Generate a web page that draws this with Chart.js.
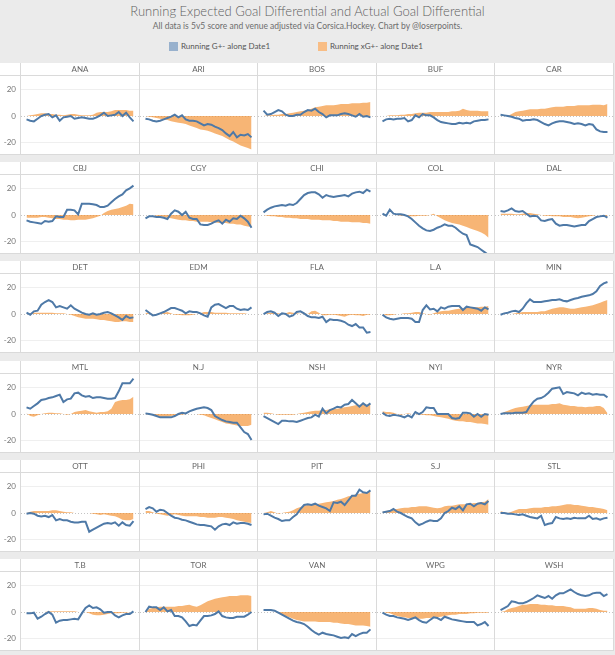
<!DOCTYPE html>
<html>
<head>
<meta charset="utf-8">
<script src="https://cdn.jsdelivr.net/npm/chart.js@4.4.0/dist/chart.umd.min.js"></script>
<style>
  body { margin: 0; background: #ebebeb; font-family: Lato, "Open Sans", sans-serif; }
  #page { position: relative; width: 615px; height: 655px; overflow: hidden; background: #ebebeb; }
  #title { position: absolute; top: 3px; left: 0; width: 615px; text-align: center; font-size: 13px; font-weight: 300; color: #5e5e5e; }
  #subtitle { position: absolute; top: 21px; left: 0; width: 615px; text-align: center; font-size: 8.5px; color: #6d6d6d; }
  .swatch { position: absolute; top: 42px; width: 9px; height: 9px; }
  .legend-text { position: absolute; top: 40.5px; font-size: 8px; color: #555; white-space: nowrap; }
  .team { position: absolute; height: 12px; line-height: 12px; text-align: center; font-size: 8px; color: #666; }
  .box { position: absolute; }
  canvas { position: absolute; }
</style>
</head>
<body>
<div id="page">
  <div id="title">Running Expected Goal Differential and Actual Goal Differential</div>
  <div id="subtitle">All data is 5v5 score and venue adjusted via Corsica.Hockey. Chart by @loserpoints.</div>
  <div class="swatch" style="left:169px;background:#98b1cd"></div>
  <div class="legend-text" style="left:181px">Running G+- along Date1</div>
  <div class="swatch" style="left:318px;background:#f8bd85"></div>
  <div class="legend-text" style="left:330px">Running xG+- along Date1</div>
</div>
<script>
/* Running G+- (line) and running xG+- (area) for each team, one value per game step */
let anaG = [-2.5, -3.5, -4, -2, 0, 1, 1.5, -1, 0.5, -3.5, -1, -0.5, 0, -2, -1.5, -1, -1.5, -2, -2, -1, 0.5, 2.5, 0, 0.5, 1, 3, 0, 2.5, -1, -4]
let anaXg = [0, 0.5, 1, 1.5, 2, 2, 1.5, 1.5, 1, 1, 0.5, 1, 1.5, 1.5, 1, 0.5, 0.5, 0.5, 1, 2.5, 3, 3, 3, 3.5, 4.5, 4.5, 4.5, 4.5, 4, 4]
let ariG = [-2, -2.5, -3.5, -4, -3.5, -2.5, -1.5, -0.5, 1, -1, 0.5, -2.5, -3.5, -3.5, -4, -5.5, -7, -6, -6.5, -8, -9, -10.5, -13, -15, -12, -16, -14, -14.5, -13.5, -16]
let ariXg = [0, -0.5, -1, -1.5, -2, -2.5, -3, -4, -4.5, -5, -5.5, -6, -7, -8, -9, -10, -10.5, -11, -12, -13, -14, -15, -16.5, -18, -19, -20.5, -22, -23, -24, -25]
let bosG = [4, 1, 1.5, 3, 4.5, 3.5, 1, 0, 0, 1, 1, 3, 4.5, 4, 5.5, 3, 1.5, -1, 0.5, 0.5, 0.5, 1.5, 2, 1.5, 0.5, -0.5, 1.5, -0.5, 0, -1]
let bosXg = [0, 0.5, 0.5, 1, 1, 1.5, 1.5, 2, 2.5, 3, 3.5, 4, 4.5, 5.5, 6.5, 7, 7.5, 8, 8, 8, 8.5, 9, 9, 9, 9.5, 9.5, 9.5, 10, 10, 10.5]
let bufG = [-4, -2.5, -2, -2.5, -2, -2, -1.5, -4, -3, 0.5, -1, 1.5, 0.5, 0.5, -1, -3, -4.5, -5, -5.5, -6, -6, -5, -5.5, -5, -5.5, -4, -3.5, -3, -3, -2.5]
let bufXg = [0, 0, 0.5, 0.5, 0.5, 1, 1, 1.5, 1.5, 2, 2.5, 2.5, 2.5, 3, 3, 3, 3, 3, 3, 3.5, 3.5, 4, 5.5, 4.5, 4, 4, 4, 3.5, 3.5, 3.5]
let carG = [1, 0.5, 0, -0.5, -1.5, -2, -3.5, -3, -3, -2.5, -3, -4.5, -6, -7, -5.5, -4.5, -4, -4, -4.5, -5, -6, -5.5, -6, -7, -6, -6.5, -10, -11.5, -12, -12]
let carXg = [0, 0, 0, 1.5, 3, 3.5, 4, 4.5, 5, 5, 5, 5.5, 5.5, 6, 6.5, 7, 7, 7, 7.5, 7.5, 7.5, 8, 8, 8, 8, 8.5, 8.5, 8.5, 8, 9]

let cbjG = [-4, -5, -5.5, -6, -6.5, -4.5, -5, -4.5, -1, -1.5, -1.5, 4, 4, 3.5, 0.5, 8.5, 8.5, 8.5, 8, 7.5, 6, 6, 7, 9.5, 12, 14, 15.5, 18.5, 20, 22]
let cbjXg = [-2, -2, -2, -2, -1.5, -1.5, -2, -2.5, -3, -3, -3.5, -3.5, -4, -4, -3.5, -3.5, -3.5, -3, -2.5, -1.5, -0.5, 1.5, 3, 4, 4.5, 5, 6, 7, 8.5, 8]
let cgyG = [-2.5, -1, -1, -1.5, -1.5, -2, -3, 1, 3.5, 2.5, 0, 2.5, -2, -3, -3, -7, -7.5, -7.5, -6.5, -5, -4, -6.5, -3.5, -5, -2.5, -3, -0.5, -2.5, -5, -9.5]
let cgyXg = [0, 0, 0, -0.5, -1, -1.5, -2, -2.5, -3, -3.5, -4, -4, -4.5, -4.5, -5, -5, -5, -5, -5.5, -5.5, -6, -6, -6, -6.5, -6.5, -7, -7, -8, -8.5, -9]
let chiG = [2, 4, 5.5, 6.5, 7, 7.5, 7, 8, 7.5, 9, 12, 15, 16.5, 17, 17, 15.5, 13, 15, 14, 13.5, 14, 14.5, 15, 14, 16, 17, 17.5, 16.5, 19, 17.5]
let chiXg = [0, -0.5, -1, -1, -1.5, -1.5, -2, -2, -2.5, -2.5, -3, -3, -3, -3.5, -3.5, -3.5, -4, -4, -4, -4.5, -4.5, -5, -5, -5, -5.5, -5.5, -5.5, -6, -6, -6.5]
let colG = [1, -0.5, 4, 1, 0.5, 0.5, 0, -1, -3, -5.5, -8, -10, -11.5, -12, -11, -9.5, -8.5, -7, -8, -8, -9.5, -12, -14, -15, -22, -23, -24, -26, -28, -30]
let colXg = [0, 0, 0, 0, 0, -0.5, -0.5, -1, -1, -1, -0.5, -0.5, -0.5, 0, 1, -1, -2.5, -4, -5, -6, -6.5, -7, -8, -9, -10, -11, -12, -13, -14.5, -17]
let dalG = [3, 2.5, 3.5, 5, 3, 2.5, 3, 1, -1, -0.5, -1, -4, -4.5, -3.5, -3, -6.5, -8, -7.5, -7.5, -8, -8.5, -8, -7.5, -7.5, -4.5, -3, -1.5, -1, -0.5, -2]
let dalXg = [1, 1, 1, 1, 0.5, 0.5, 1, 1.5, 1.5, 1, 0.5, 0, -0.5, -0.5, -1, -1, -1, -1.5, -1.5, -1.5, -2, -2.5, -2, -1.5, -1, -0.5, 0, 0, -0.5, -1]

let detG = [1, -0.5, 2, 2.5, 7, 9, 10.5, 9, 5, 6, 5, 4, 6.5, 4, 2.5, 1, 0, -0.5, 0.5, -0.5, 0, 1, 1.5, 0.5, -1, -2.5, -4.5, -1.5, -3, -2.5]
let detXg = [0, 0.5, 1, 1, 1, 1, 1, 1, 0.5, 0.5, 0.5, 0, -0.5, -1.5, -2.5, -3, -3.5, -3.5, -3.5, -4, -4.5, -4.5, -5, -5.5, -6, -6, -5.5, -5.5, -6, -6]
let edmG = [3, 1, -1, -0.5, 0.5, 1.5, 3, 4.5, 4.5, 3.5, 2.5, 0.5, 2, 1.5, 1.5, 0.5, -1, -2, 5, 7, 7.5, 6, 4.5, 6, 6, 4, 3, 3.5, 3, 5]
let edmXg = [1, 0.5, 0, -0.5, 0, 1, 1.5, 0.5, -0.5, -0.5, -1, -1, -1, -0.5, 0, 0.5, 1.5, 1.5, 1.5, 1, 1, 1, 1, 0.5, 0.5, 0.5, 0.5, 0.5, 0, 0]
let flaG = [0, 1.5, 2, 1, -1.5, 0.5, 0, -2, -1, 1.5, 2, 0.5, -1.5, -2.5, -2.5, -3, -2, -6, -4, -4.5, -4.5, -5, -6, -8, -9, -7.5, -10, -10, -14, -13.5]
let flaXg = [0, 0.5, 1, 1, 0.5, 0, 0.5, 1.5, 1, 0.5, 0, 0.5, 0, 2, 2.5, 1, -1, -1, -0.5, -0.5, -1, -1.5, -2, -1, -0.5, -1, -1, -1.5, -0.5, -0.5]
let laG = [-0.5, -2.5, -3.5, -4, -3.5, -3, -3, -3, -3.5, -6, -6, 3, 6.5, 3.5, 4, 2, 5, 4, 5.5, 6, 6, 6, 3, 5.5, 5, 4.5, 4, 2.5, 5, 3.5]
let laXg = [0, -1, -1, -0.5, 0, 0, 0.5, 0.5, 1, 1.5, 1.5, 0.5, 0, -0.5, 0.5, 1.5, 2, 2.5, 2.5, 3, 3.5, 4, 4, 4.5, 4.5, 5, 5, 5.5, 5.5, 6]
let minG = [-0.5, 0.5, 1, 2, 2.5, 1.5, 4, 8, 11, 9, 9, 9, 9.5, 10, 10.5, 10.5, 11, 10, 9.5, 10.5, 11.5, 12, 13, 13.5, 14, 15, 17, 21, 23, 24]
let minXg = [0, 0, 0, 0, 0.5, 1, 1.5, 1.5, 1.5, 1.5, 1.5, 2, 2, 3, 4, 4.5, 5, 5, 4.5, 4, 4, 4.5, 5, 5.5, 6, 6.5, 7.5, 8.5, 9.5, 10.5]

let mtlG = [5, 4, 6, 8, 10.5, 11, 12, 12.5, 13.5, 14.5, 9, 11, 11.5, 15.5, 16, 14, 13, 13.5, 12, 12.5, 12.5, 12, 11.5, 11.5, 12, 17, 23, 23, 23, 26.5]
let mtlXg = [0.5, -1.5, -2, -1, 0, 0.5, 1, 1, 0.5, 0.5, 0, -0.5, 0, 1.5, 2, 2.5, 3, 2, 1.5, 1, 1.5, 1.5, 2, 4, 9, 10, 10.5, 10.5, 11, 13]
let njG = [0.5, 0, -0.5, -1.5, -2.5, -2.5, -2.5, -2.5, -1.5, 0, 1, 0.5, 2, 3, 4, 4.5, 5, 4.5, 3, -1.5, -3, -4.5, -5.5, -6, -6.5, -6.5, -10, -13.5, -15, -19.5]
let njXg = [0, -0.5, -1, -1.5, -2, -2, -2, -1.5, -1, -0.5, -0.5, 0, 0, 0, 0, -0.5, -1, -2, -3, -4, -5, -6, -7, -7.5, -8, -8.5, -9, -9, -9, -8]
let nshG = [-1.5, -3, -4.5, -6, -7.5, -5, -5, -5.5, -5.5, -6, -5, -4, -3, -2.5, -0.5, -2, 4, 0.5, 3, 4, 5.5, 5, 7, 7.5, 10.5, 8, 5.5, 8, 6, 8]
let nshXg = [1, 1, 0.5, 0, -0.5, -0.5, -0.5, -0.5, -0.5, 0, 0.5, 1, 1.5, 2, 2.5, 2.5, 3, 3, 3.5, 4, 4, 4.5, 5, 5.5, 6, 6.5, 7, 7, 7, 7.5]
let nyiG = [1, -1, -1.5, -0.5, -1, -1.5, -2.5, -1, -2.5, 1.5, 0, 1.5, 5, 4.5, 4.5, 0, 0, 0, 0, -3, -3.5, -3, 1, 1, 0.5, -2, 0, -2, 0, -0.5]
let nyiXg = [2, 1.5, 1.5, 1, 0, -0.5, 0, 0.5, 0, 0, -0.5, -0.5, -1, -1, -1.5, -2, -2.5, -3, -3.5, -4.5, -5, -5.5, -5.5, -6, -6, -6.5, -7, -7, -7.5, -8]
let nyrG = [0, 0.5, 0.5, 0.5, 1, 1, 1, 1.5, 6, 9.5, 11.5, 12, 13.5, 16, 19, 19.5, 20, 15, 16.5, 16, 15.5, 14, 16, 15, 15.5, 14.5, 15, 14.5, 14.5, 12.5]
let nyrXg = [0, 1.5, 2.5, 3.5, 4.5, 5, 5.5, 6, 6.5, 7, 7, 7, 7, 7, 7.5, 7.5, 8, 7, 6.5, 6, 6, 5.5, 5.5, 5, 5.5, 5.5, 6, 6, 4.5, 0.5]

let ottG = [-0.5, 0, -0.5, -2, -2.5, -2, -3, -1.5, -5.5, -4.5, -5.5, -5.5, -6.5, -7, -7, -6.5, -6.5, -14, -12.5, -11, -9.5, -8, -7.5, -8, -7, -9.5, -7, -9, -9.5, -6]
let ottXg = [0, 1, 1.5, 1.5, 1.5, 1.5, 1.5, 2, 2, 1.5, 1, 0.5, 0.5, 0, 0, 0, 0, 0, -0.5, -1, -1.5, -1, -1.5, -2, -2.5, -3.5, -5, -5.5, -5.5, -4.5]
let phiG = [3, 4.5, 3.5, 1, 2.5, 2, 0, -2, -3.5, -4, -5, -5.5, -6.5, -7.5, -8.5, -9, -9, -9.5, -10, -12.5, -10, -8.5, -8, -9, -7, -8, -7.5, -7.5, -8, -9]
let phiXg = [1.5, 1.5, 0.5, -0.5, -1, -1.5, -2, -1.5, -1, -1.5, -2, -2.5, -2.5, -2.5, -2.5, -3, -3, -3.5, -3.5, -3.5, -3, -3, -3.5, -4, -4.5, -5.5, -6, -6.5, -7, -7.5]
let pitG = [-1, -0.5, -2, -3.5, -4.5, -6, -5.5, -5.5, -3, -1, 3, 6, 6.5, 6, 7, 5.5, 4.5, 3.5, 1.5, 8, 7.5, 8.5, 6, 9.5, 13, 13, 17.5, 15.5, 15, 17]
let pitXg = [0, 0.5, 1.5, 0.5, -0.5, 0, 0.5, 1, 2, 3.5, 4.5, 5.5, 6, 6, 6.5, 7, 7.5, 8, 8.5, 9, 10, 10.5, 11.5, 12.5, 13, 14, 14.5, 15, 15.5, 16.5]
let sjG = [0.5, 1, 1.5, 3, 1, 0, -1.5, -3, -4, -7, -9, -8, -6.5, -5.5, -6, -6, -4, 0, 1.5, 4, 3, 5, 2, 6.5, 7, 5, 7, 7.5, 6.5, 9]
let sjXg = [1, 1.5, 2, 3, 3, 3.5, 4, 4, 4.5, 4.5, 5, 5, 5, 4.5, 4, 3.5, 4, 5, 5.5, 5.5, 6, 6.5, 6.5, 6.5, 7, 7.5, 7.5, 8, 8.5, 10.5]
let stlG = [0, 0, -0.5, -0.5, -1, -1.5, -1, -2, -3, -3.5, -4, -2, -9, -8, -7.5, -3, -4, -4.5, -4, -4.5, -3.5, -4, -4, -4, -2, -4.5, -4, -5, -4, -3.5]
let stlXg = [1.5, 0.5, 0, 1, 2, 3, 3, 3, 3.5, 4, 4, 4, 4.5, 4.5, 5, 5, 5.5, 6, 6.5, 6.5, 6, 6, 5.5, 5, 4.5, 4.5, 4, 3.5, 3, 2]

let tbG = [-1, -1, -0.5, -5, -3.5, -1.5, 0, -2, -8, -6.5, -6, -6, -5.5, -5, -5.5, -1, 3, 5, 3, 3.5, 2, -0.5, 0, 0, -2.5, -4, -2.5, -1.5, -1.5, 0.5]
let tbXg = [0, 0, 0, 0, 0, 0, 0.5, 0.5, 0.5, 0.5, 0.5, 0.5, 0.5, 0.5, 0, 0, 0, -1, -2, -2.5, -2.5, -2, -1.5, -1, -1, -1, -0.5, -0.5, 0, 0]
let torG = [0, 4, 3.5, 3.5, 1.5, 3.5, 0.5, 1.5, -3, -3, -4, -7, -10.5, -9.5, -10, -6.5, -3, -3, -2.5, -1.5, 0.5, -3, -4, -4.5, -4.5, -3.5, -3.5, -3.5, -2, 0]
let torXg = [0, 2.5, 3, 3.5, 4, 4, 4, 4, 4, 4.5, 4.5, 5, 5.5, 4.5, 4, 5, 6.5, 8, 9, 10, 10.5, 11, 11.5, 12, 12, 12, 12.5, 12.5, 12.5, 12]
let vanG = [1.5, 1.5, 1.5, 1, -0.5, -2, -3.5, -5, -6.5, -7.5, -8, -9, -11, -13.5, -15.5, -17, -15.5, -16.5, -17, -17.5, -18.5, -19.5, -19, -19.5, -16.5, -18, -16.5, -15.5, -15.5, -13]
let vanXg = [0, 0, 0, 0, -0.5, -2, -3, -4, -5, -6, -6.5, -7, -7, -7, -7, -7.5, -7.5, -7.5, -7.5, -8, -8, -8.5, -9, -9, -9.5, -10, -10, -10, -10.5, -11]
let wpgG = [-0.5, -2, -3, -3, -4, -4.5, -5, -6, -5, -4, -6, -7.5, -8, -6, -4, -4.5, -6, -3.5, -4.5, -5.5, -6, -6.5, -7, -7.5, -7.5, -7.5, -10, -9, -7.5, -10.5]
let wpgXg = [0, -0.5, -1, -2, -3, -3.5, -4, -4.5, -4.5, -5, -5, -5, -4.5, -4.5, -4, -4, -3.5, -3, -2.5, -2, -2, -1.5, -1.5, -1.5, -1, -1, -0.5, -0.5, -0.5, -0.5]
let wshG = [1.5, 3, 4.5, 8, 7.5, 6.5, 6.5, 7.5, 9, 10.5, 12.5, 11.5, 10.5, 12, 10, 12.5, 14, 14, 15.5, 17, 15, 13.5, 12.5, 12, 12.5, 14, 14.5, 14.5, 12, 13.5]
let wshXg = [0, 0.5, 2, 3, 3.5, 4.5, 5.5, 5.5, 6, 6, 6, 5.5, 5.5, 5, 5, 4.5, 4.5, 4.5, 4, 3.5, 2.5, 2.5, 2.5, 2.5, 3, 3, 2.5, 1.5, 1, 1]

let teams = ['ANA', 'ARI', 'BOS', 'BUF', 'CAR', 'CBJ', 'CGY', 'CHI', 'COL', 'DAL',
             'DET', 'EDM', 'FLA', 'L.A', 'MIN', 'MTL', 'N.J', 'NSH', 'NYI', 'NYR',
             'OTT', 'PHI', 'PIT', 'S.J', 'STL', 'T.B', 'TOR', 'VAN', 'WPG', 'WSH']
let goalSeries = [anaG, ariG, bosG, bufG, carG, cbjG, cgyG, chiG, colG, dalG,
                  detG, edmG, flaG, laG, minG, mtlG, njG, nshG, nyiG, nyrG,
                  ottG, phiG, pitG, sjG, stlG, tbG, torG, vanG, wpgG, wshG]
let xgSeries = [anaXg, ariXg, bosXg, bufXg, carXg, cbjXg, cgyXg, chiXg, colXg, dalXg,
                detXg, edmXg, flaXg, laXg, minXg, mtlXg, njXg, nshXg, nyiXg, nyrXg,
                ottXg, phiXg, pitXg, sjXg, stlXg, tbXg, torXg, vanXg, wpgXg, wshXg]
let yTicks = [-20, 0, 20]

/* colours */
let lineBlue = '#4e79a7'
let areaOrange = 'rgba(242, 142, 43, 0.65)'
let borderGrey = '#dadada'

/* layout of the trellis */
let colEdges = [20, 139, 257, 376, 494, 613]
let rowTops = [63, 162, 261, 361, 460, 559]
let headerHeight = 12
let plotHeight = 79
let page = document.querySelector('#page')

function addBox(left, top, width, height, color) {
    let d = document.createElement('div')
    d.className = 'box'
    d.style.cssText = 'left:' + left + 'px;top:' + top + 'px;width:' + width + 'px;height:' + height + 'px;background:' + color + ';z-index:2'
    page.appendChild(d)
    return d
}

// dotted zero reference line under the marks
let zeroLine = {
    id: 'zeroLine',
    beforeDatasetsDraw(chart) {
        let ctx = chart.ctx
        let area = chart.chartArea
        let y = Math.round(chart.scales.y.getPixelForValue(0)) + 0.5
        ctx.save()
        ctx.strokeStyle = '#c4c4c4'
        ctx.lineWidth = 1
        ctx.setLineDash([1, 2])
        ctx.beginPath()
        ctx.moveTo(area.left, y)
        ctx.lineTo(area.right, y)
        ctx.stroke()
        ctx.restore()
    }
}

function toPoints(values) {
    return values.map(function(v, i) { return { x: i, y: v } })
}

// white panels and the grey rules of each row
rowTops.forEach(function(top) {
    let panel = addBox(0, top, 614, headerHeight + 1 + plotHeight, '#fff')
    panel.style.zIndex = 0
    addBox(0, top + headerHeight, 614, 1, borderGrey)
    addBox(0, top + headerHeight + 1 + plotHeight - 1, 614, 1, borderGrey)
    colEdges.forEach(function(x) {
        addBox(x, top, 1, headerHeight + 1 + plotHeight, borderGrey)
    })
})

teams.forEach(function(team, i) {
    let row = Math.floor(i / 5)
    let col = i % 5
    let top = rowTops[row]
    let left = colEdges[col]
    let right = colEdges[col + 1]

    // team name header
    let label = document.createElement('div')
    label.className = 'team'
    label.textContent = team
    label.style.left = (left + 1) + 'px'
    label.style.top = top + 'px'
    label.style.width = (right - left - 1) + 'px'
    label.style.zIndex = 3
    page.appendChild(label)

    // the first column also carries the y axis labels
    let firstCol = col == 0
    let canvas = document.createElement('canvas')
    let canvasLeft = firstCol ? 0 : left + 1
    let canvasWidth = right - canvasLeft
    canvas.width = canvasWidth
    canvas.height = plotHeight
    canvas.style.left = canvasLeft + 'px'
    canvas.style.top = (top + headerHeight + 1) + 'px'
    canvas.style.zIndex = 1
    page.appendChild(canvas)

    new Chart(canvas.getContext('2d'), {
        type: 'line',
        data: {
            datasets: [
                {
                    label: 'Running G+- along Date1',
                    data: toPoints(goalSeries[i]),
                    borderColor: lineBlue,
                    borderWidth: 2,
                    pointRadius: 0,
                    tension: 0,
                    fill: false,
                    order: 0
                },
                {
                    label: 'Running xG+- along Date1',
                    data: toPoints(xgSeries[i]),
                    borderColor: 'rgba(0,0,0,0)',
                    borderWidth: 0,
                    backgroundColor: areaOrange,
                    pointRadius: 0,
                    tension: 0,
                    fill: 'origin',
                    order: 1
                }
            ]
        },
        options: {
            responsive: false,
            animation: false,
            events: [],
            layout: { padding: 0, autoPadding: false },
            plugins: { legend: { display: false }, tooltip: { enabled: false } },
            scales: {
                x: { type: 'linear', display: false, min: -1.5, max: 30.5 },
                y: {
                    min: -29.2,
                    max: 30,
                    afterBuildTicks: function(scale) {
                        scale.ticks = yTicks.map(function(v) { return { value: v } })
                    },
                    afterFit: function(scale) {
                        // plot uses the whole cell height: no room kept for label overhang
                        scale.width = firstCol ? 21 : 0
                        scale.paddingTop = 0
                        scale.paddingBottom = 0
                    },
                    border: { display: false },
                    grid: {
                        drawTicks: false,
                        color: function(c) { return c.tick && c.tick.value === 0 ? 'rgba(0,0,0,0)' : '#efefef' }
                    },
                    ticks: {
                        display: firstCol,
                        autoSkip: false,
                        padding: 5,
                        color: '#777',
                        font: { family: 'Lato', size: 8 }
                    }
                }
            }
        },
        plugins: [zeroLine]
    })
})
</script>
</body>
</html>
